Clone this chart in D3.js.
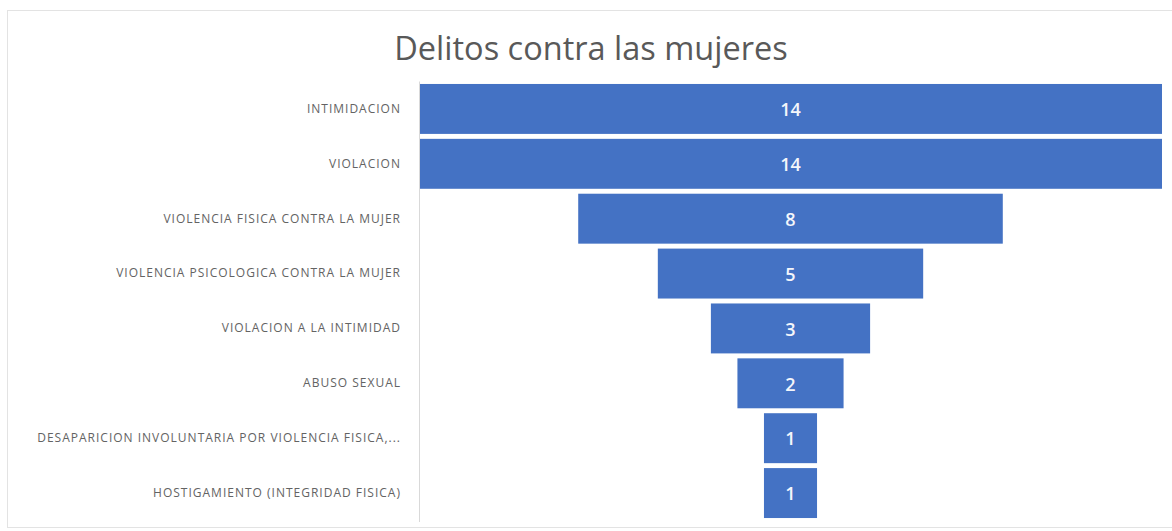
<!DOCTYPE html>
<html>
<head>
<meta charset="utf-8">
<script src="https://cdn.jsdelivr.net/npm/d3@7"></script>
<style>
  body { margin: 0; background: #fff; }
  text { font-family: "Open Sans", "Noto Sans", sans-serif; }
</style>
</head>
<body>
<div id="chart"></div>
<script>
// data
var categories = [
  "INTIMIDACION",
  "VIOLACION",
  "VIOLENCIA FISICA CONTRA LA MUJER",
  "VIOLENCIA PSICOLOGICA CONTRA LA MUJER",
  "VIOLACION A LA INTIMIDAD",
  "ABUSO SEXUAL",
  "DESAPARICION INVOLUNTARIA POR VIOLENCIA FISICA,...",
  "HOSTIGAMIENTO (INTEGRIDAD FISICA)"
];
var values = [14, 14, 8, 5, 3, 2, 1, 1];
var title = "Delitos contra las mujeres";

var width = 1172, height = 531;

var svg = d3.select("#chart").append("svg")
  .attr("width", width)
  .attr("height", height);

// outer frame
svg.append("rect")
  .attr("x", 7.5).attr("y", 10.5)
  .attr("width", 1180).attr("height", 517)
  .attr("fill", "none")
  .attr("stroke", "#e3e3e3");

var axisX = 419;
var plotRight = 1162;

var y = d3.scaleBand()
  .domain(categories)
  .range([81.5, 520.5])
  .paddingInner(0.09)
  .paddingOuter(0.045);

// funnel: bar widths centered on the middle of the plot
var w = d3.scaleLinear()
  .domain([0, d3.max(values)])
  .range([0, plotRight - axisX]);
var cx = (axisX + plotRight) / 2;

var data = categories.map(function(c, i) { return {name: c, value: values[i]}; });

svg.append("g").selectAll("rect")
  .data(data)
  .enter().append("rect")
    .attr("x", function(d) { return cx - w(d.value) / 2; })
    .attr("y", function(d) { return y(d.name); })
    .attr("width", function(d) { return w(d.value); })
    .attr("height", y.bandwidth())
    .attr("fill", "#4472c4");

svg.append("g").selectAll("text")
  .data(data)
  .enter().append("text")
    .attr("x", cx)
    .attr("y", function(d) { return y(d.name) + y.bandwidth() / 2; })
    .attr("dy", "0.4em")
    .attr("text-anchor", "middle")
    .attr("fill", "#f4f6fb")
    .attr("font-size", 18)
    .attr("font-weight", 600)
    .text(function(d) { return d.value; });

// category axis
var yAxis = svg.append("g")
  .attr("transform", "translate(" + axisX + ",0)")
  .call(d3.axisLeft(y).tickSize(0).tickPadding(18));
yAxis.select(".domain")
  .attr("stroke", "#d9d9d9")
  .attr("d", "M0.5,81.5V522");
yAxis.selectAll("text")
  .attr("fill", "#636363")
  .attr("font-size", 12)
  .attr("letter-spacing", "1px")
  .style("font-family", "'Open Sans', sans-serif");

// title
svg.append("text")
  .attr("x", 591)
  .attr("y", 60)
  .attr("text-anchor", "middle")
  .attr("fill", "#595959")
  .attr("font-size", 32.5)
  .text(title);
</script>
</body>
</html>
